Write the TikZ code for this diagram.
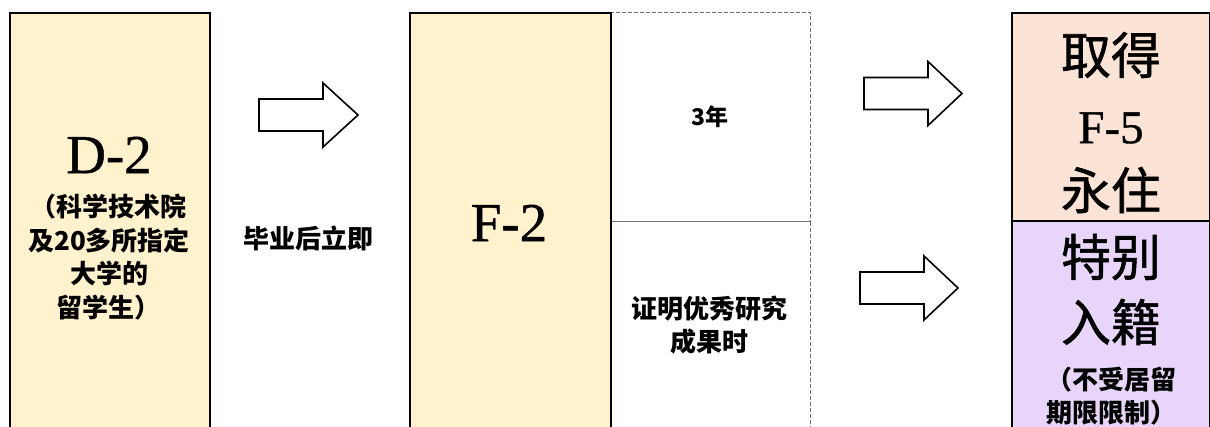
\documentclass[tikz,border=0pt]{standalone}
\usepackage{fontspec}
\setmainfont{Liberation Serif}
\newfontfamily\cjk{Noto Sans CJK SC}
\newfontfamily\cjkh[FakeBold=1.2]{Noto Sans CJK SC}
\newfontfamily\serifh[FakeBold=0.8]{Liberation Serif}
\definecolor{yel}{HTML}{FFF2CC}
\definecolor{peach}{HTML}{FBE3D6}
\definecolor{lav}{HTML}{E8D5FA}
\definecolor{dashgray}{HTML}{707070}
\begin{document}
\begin{tikzpicture}[x=1pt,y=-1pt,
  box/.style={draw=black,line width=2pt,inner sep=0pt,anchor=north west},
  dbox/.style={draw=dashgray,line width=1.2pt,dash pattern=on 4pt off 2pt,inner sep=0pt,anchor=north west},
  blk/.style={draw=black,line width=1.6pt,fill=white,line join=miter},
  big/.style={font=\serifh\fontsize{55}{55}\selectfont,inner sep=0pt},
  bigcjk/.style={font=\cjkh\fontsize{50}{50}\selectfont,inner sep=0pt},
  mid/.style={font=\cjk\bfseries\fontsize{26}{33.5}\selectfont,inner sep=0pt,align=center},
  sml/.style={font=\cjk\bfseries\fontsize{23}{23}\selectfont,inner sep=0pt}]
\useasboundingbox (0,0) rectangle (1210,427);
\clip (0,0) rectangle (1210,427);
% left box
\node[box,fill=yel,minimum width=200pt,minimum height=460pt] (d2box) at (9,12) {};
\node[big] (d2) at (109,155) {D-2};
\node[mid] (d2sub) at (109,257) {（科学技术院\\及20多所指定\\大学的\\留学生）};
% arrow 1
\coordinate (a1) at (259,115);
\draw[blk] (a1) ++(0,-16) -- ++(64,0) -- ++(0,-16) -- ++(35,32) -- ++(-35,32) -- ++(0,-16) -- ++(-64,0) -- cycle;
\node[mid] (grad) at (308,238) {毕业后立即};
% dashed cells
\node[dbox,minimum width=200pt,minimum height=209pt] (c3) at (610,12) {};
\node[dbox,minimum width=200pt,minimum height=260pt] (cres) at (610,221) {};
\node[sml] (t3) at (710,117) {3年};
\node[mid] (tres) at (709,325) {证明优秀研究\\成果时};
% F-2 box
\node[box,fill=yel,minimum width=201pt,minimum height=460pt] (f2box) at (409,12) {};
\node[big] (f2) at (509,223) {F-2};
% arrows 2 and 3
\coordinate (a2) at (864,93.5);
\draw[blk] (a2) ++(0,-16) -- ++(64,0) -- ++(0,-16) -- ++(34,32) -- ++(-34,32) -- ++(0,-16) -- ++(-64,0) -- cycle;
\coordinate (a3) at (860,288);
\draw[blk] (a3) ++(0,-16) -- ++(64,0) -- ++(0,-16) -- ++(34,32) -- ++(-34,32) -- ++(0,-16) -- ++(-64,0) -- cycle;
% right boxes
\node[box,fill=peach,minimum width=198pt,minimum height=208pt] (f5box) at (1011,12) {};
\node[box,fill=lav,minimum width=198pt,minimum height=260pt] (natbox) at (1011,220) {};
\node[bigcjk] (qd) at (1111,55) {取得};
\node[font=\serifh\fontsize{47}{47}\selectfont,inner sep=0pt] (f5) at (1111,128) {F-5};
\node[bigcjk] (yz) at (1111,190) {永住};
\node[bigcjk] (tb) at (1111,257) {特别};
\node[bigcjk] (rj) at (1111,322) {入籍};
\node[mid] (nolim) at (1111,396) {（不受居留\\期限限制）};
\end{tikzpicture}
\end{document}
